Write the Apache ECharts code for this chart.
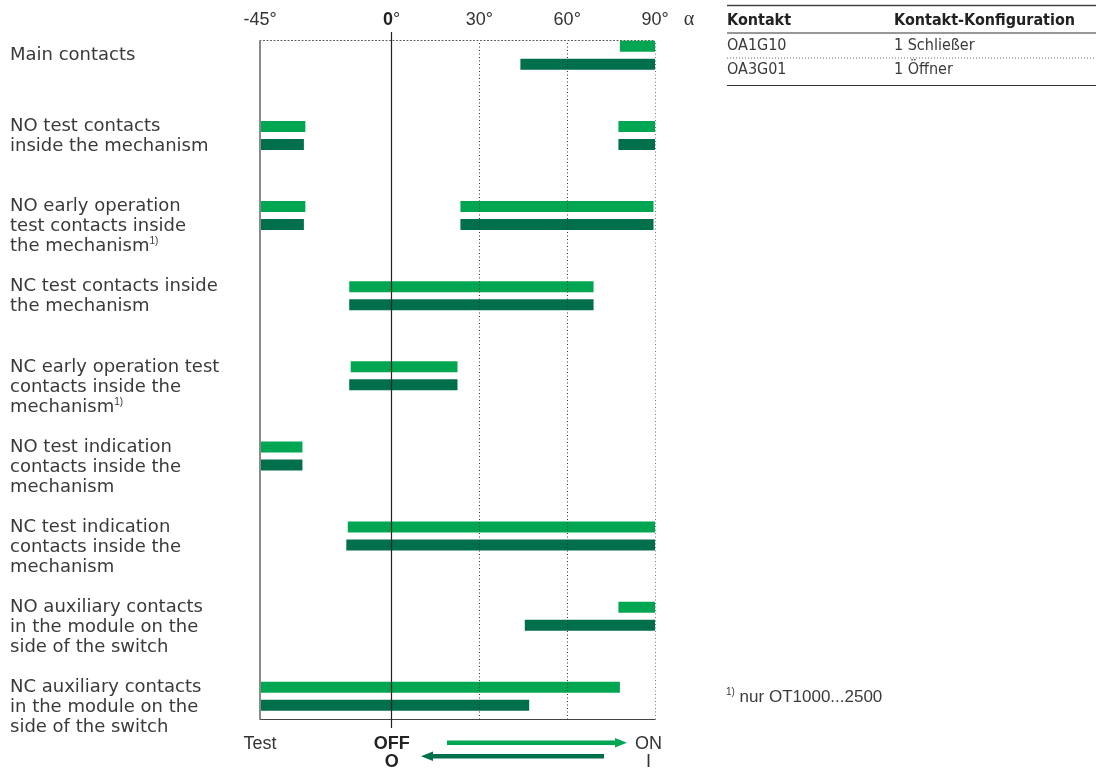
<!DOCTYPE html>
<html>
<head>
<meta charset="utf-8">
<script src="https://cdn.jsdelivr.net/npm/echarts@6/dist/echarts.min.js"></script>
<style>
  html, body { margin: 0; padding: 0; background: #fff; }
  #chart { width: 1096px; height: 773px; }
</style>
</head>
<body>
<div id="chart"></div>
<script>
// Zeilen (von oben nach unten)
const rowLabels = [
  "Main contacts",
  "NO test contacts\ninside the mechanism",
  "NO early operation\ntest contacts inside\nthe mechanism{sup|1)}",
  "NC test contacts inside\nthe mechanism",
  "NC early operation test\ncontacts inside the\nmechanism{sup|1)}",
  "NO test indication\ncontacts inside the\nmechanism",
  "NC test indication\ncontacts inside the\nmechanism",
  "NO auxiliary contacts\nin the module on the\nside of the switch",
  "NC auxiliary contacts\nin the module on the\nside of the switch"
];
// Schaltrichtung O -> I : [zeile, von, bis] in Grad
const closingSegments = [
  [0, 78, 90],
  [1, -45, -29.5], [1, 77.5, 90],
  [2, -45, -29.5], [2, 23.5, 89.5],
  [3, -14.5, 69],
  [4, -14, 22.5],
  [5, -45, -30.5],
  [6, -15, 90],
  [7, 77.5, 90],
  [8, -45, 78]
];
// Schaltrichtung I -> O
const openingSegments = [
  [0, 44, 90],
  [1, -45, -30], [1, 77.5, 90],
  [2, -45, -30], [2, 23.5, 89.5],
  [3, -14.5, 69],
  [4, -14.5, 22.5],
  [5, -45, -30.5],
  [6, -15.5, 90],
  [7, 45.5, 90],
  [8, -45, 47]
];
const topTicks = [-45, 0, 30, 60, 90];
const dottedLines = [30, 60, 90];
const bottomTicks = [-45, 0, 90];
const bottomTickText = { "-45": "Test", "0": "{b|OFF}\n{b|O}", "90": "{on|ON}\n{on|I}" };
const tableHead = ["Kontakt", "Kontakt-Konfiguration"];
const tableRows = [["OA1G10", "1 Schließer"], ["OA3G01", "1 Öffner"]];
const footnote = "nur OT1000...2500";

const LIGHT = "#00a651";
const DARK = "#006f4c";
const TEXT = "#3a3a3a";
const SANS = "Liberation Sans, Arial, sans-serif";
const LABEL_FONT = "DejaVu Sans, sans-serif";
const NARROW = "Liberation Sans Narrow, DejaVu Sans Condensed, Arial Narrow, sans-serif";

let chart = echarts.init(document.getElementById("chart"));

// Balken einer Richtung zeichnen, shift = Versatz innerhalb der Zeile
function barRenderer(shift) {
  return function (params, api) {
    let row = api.value(0);
    let a = api.coord([api.value(1), row]);
    let b = api.coord([api.value(2), row]);
    let h = 11;
    return {
      type: "rect",
      shape: { x: a[0], y: a[1] + shift - h / 2, width: b[0] - a[0], height: h },
      style: { fill: api.visual("color") }
    };
  };
}

// Tabelle oben rechts
let tableGraphics = [
  { type: "line", shape: { x1: 727, y1: 5.5, x2: 1096, y2: 5.5 }, style: { stroke: "#444", lineWidth: 1.5 } },
  { type: "line", shape: { x1: 727, y1: 33, x2: 1096, y2: 33 }, style: { stroke: "#333", lineWidth: 1 } },
  { type: "line", shape: { x1: 727, y1: 58, x2: 1096, y2: 58 }, style: { stroke: "#666", lineWidth: 1, lineDash: [1, 2] } },
  { type: "line", shape: { x1: 727, y1: 85.5, x2: 1096, y2: 85.5 }, style: { stroke: "#333", lineWidth: 1.2 } }
];
tableHead.forEach(function (t, c) {
  tableGraphics.push({
    type: "text", x: c === 0 ? 727 : 894, y: 21,
    style: { text: t, fill: "#222", fontSize: 16, fontWeight: "bold", fontFamily: NARROW, verticalAlign: "middle" }
  });
});
tableRows.forEach(function (r, i) {
  r.forEach(function (t, c) {
    tableGraphics.push({
      type: "text", x: c === 0 ? 727 : 894, y: 46 + i * 23.5,
      style: { text: t, fill: TEXT, fontSize: 16, fontFamily: NARROW, verticalAlign: "middle" }
    });
  });
});

let option = {
  animation: false,
  grid: [
    { left: 260, right: 441, top: 40.5, bottom: 53.5 },   // Rahmen
    { left: 260, right: 441, top: 32, bottom: 45 },       // 0-Linie
    { left: 260, right: 441, top: 15.3, bottom: 36.6 }    // Balken
  ],
  xAxis: [
    {
      gridIndex: 0, type: "value", min: -45, max: 90, position: "top",
      axisLine: { show: true, onZero: false, lineStyle: { color: "#555", width: 1, type: [1, 2.5] } },
      axisTick: { show: false }, splitLine: { show: false },
      axisLabel: {
        customValues: topTicks, margin: 11, fontSize: 18, color: "#333", fontFamily: SANS,
        formatter: function (v) { return v === 0 ? "{b|0}°" : v + "°"; },
        rich: { b: { fontSize: 18, fontWeight: "bold", color: "#222", fontFamily: SANS } }
      }
    },
    {
      gridIndex: 0, type: "value", min: -45, max: 90, position: "bottom",
      axisLine: { show: true, onZero: false, lineStyle: { color: "#444", width: 1.2 } },
      axisTick: { show: false }, splitLine: { show: false },
      axisLabel: {
        customValues: bottomTicks, margin: 16, fontSize: 18, lineHeight: 18, color: "#333", fontFamily: SANS,
        formatter: function (v) { return bottomTickText[String(v)]; },
        rich: {
          b: { fontSize: 18, lineHeight: 18, fontWeight: "bold", color: "#222", fontFamily: SANS },
          on: { fontSize: 18, lineHeight: 18, color: "#333", fontFamily: SANS, padding: [0, 13, 0, 0] }
        }
      }
    },
    { gridIndex: 1, type: "value", min: -45, max: 90, show: false },
    { gridIndex: 2, type: "value", min: -45, max: 90, show: false }
  ],
  yAxis: [
    { gridIndex: 0, type: "value", min: 0, max: 1, show: false },
    { gridIndex: 1, type: "value", min: 0, max: 1, show: false },
    { gridIndex: 2, type: "category", data: rowLabels, inverse: true, show: false }
  ],
  graphic: tableGraphics.concat([
    // alpha neben der Skala
    { type: "text", x: 689, y: 20, style: { text: "α", fill: "#333", fontSize: 20, fontFamily: "Liberation Serif, serif", align: "center", verticalAlign: "middle" } },
    // Fussnote
    {
      type: "text", x: 726, y: 697,
      style: {
        text: "{sup|1)} " + footnote, fill: TEXT, fontSize: 17, fontFamily: SANS, verticalAlign: "middle", lineHeight: 20,
        rich: { sup: { fontSize: 10, verticalAlign: "top", fontFamily: SANS } }
      }
    },
    // Pfeile O -> I und I -> O
    { type: "rect", shape: { x: 447, y: 740.5, width: 170, height: 4.5 }, style: { fill: LIGHT } },
    { type: "polygon", shape: { points: [[615, 738], [627, 742.7], [615, 747.5]] }, style: { fill: LIGHT } },
    { type: "rect", shape: { x: 431, y: 754, width: 173, height: 4.5 }, style: { fill: DARK } },
    { type: "polygon", shape: { points: [[421, 756.3], [433, 751.5], [433, 761]] }, style: { fill: DARK } }
  ]),
  series: [
    {
      // Rahmenlinien
      type: "line", xAxisIndex: 0, yAxisIndex: 0, data: [], silent: true,
      markLine: {
        silent: true, symbol: ["none", "none"], label: { show: false }, animation: false,
        data: [{ xAxis: -45, lineStyle: { color: "#8a8a8a", width: 2, type: "solid" } }].concat(
          dottedLines.map(function (v) {
            return { xAxis: v, lineStyle: { color: v === 90 ? "#777" : "#333", width: 1, type: [1, 2.5] } };
          })
        )
      }
    },
    {
      type: "line", xAxisIndex: 2, yAxisIndex: 1, data: [], silent: true,
      markLine: {
        silent: true, symbol: ["none", "none"], label: { show: false }, animation: false,
        data: [{ xAxis: 0, lineStyle: { color: "#222", width: 1.2, type: "solid" } }]
      }
    },
    {
      name: "O → I", type: "custom", xAxisIndex: 3, yAxisIndex: 2, clip: false,
      itemStyle: { color: LIGHT },
      encode: { x: [1, 2], y: 0 },
      renderItem: barRenderer(-9),
      data: closingSegments
    },
    {
      name: "I → O", type: "custom", xAxisIndex: 3, yAxisIndex: 2, clip: false,
      itemStyle: { color: DARK },
      encode: { x: [1, 2], y: 0 },
      renderItem: barRenderer(9),
      data: openingSegments
    },
    {
      // Zeilenbeschriftung links: mehrzeilig -> erste Zeile auf Hoehe des hellen Balkens
      type: "custom", xAxisIndex: 3, yAxisIndex: 2, clip: false, silent: true,
      encode: { y: 0 },
      renderItem: function (params, api) {
        let i = api.value(0);
        let c = api.coord([0, i])[1];
        let single = rowLabels[i].indexOf("\n") < 0;
        return {
          type: "text", x: 10, y: single ? c - 10 : c - 9 - 10,
          style: {
            text: rowLabels[i], fill: TEXT, fontSize: 18, fontFamily: LABEL_FONT,
            lineHeight: 20, align: "left", verticalAlign: "top",
            rich: { sup: { fontSize: 10, verticalAlign: "top", fontFamily: SANS, lineHeight: 12 } }
          }
        };
      },
      data: rowLabels.map(function (t, i) { return [i]; })
    }
  ]
};
chart.setOption(option);
</script>
</body>
</html>
